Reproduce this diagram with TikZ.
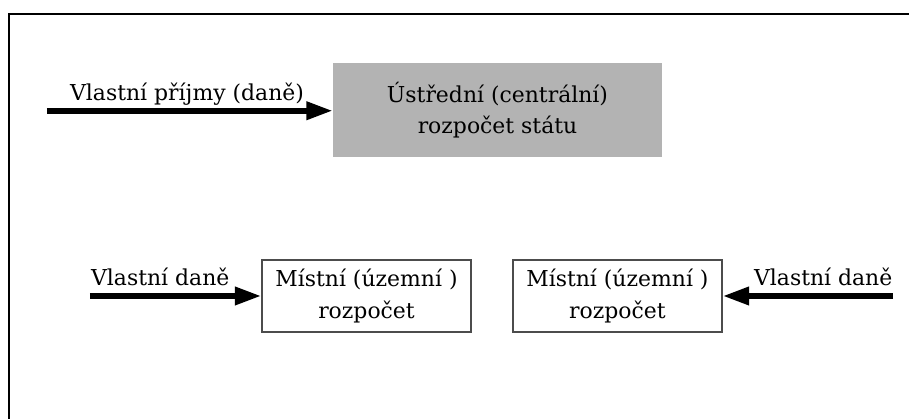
\documentclass[tikz,border=0pt]{standalone}
\usepackage{fontspec}
\setmainfont{DejaVu Serif}
\usetikzlibrary{arrows.meta}
\definecolor{BudgetGrey}{RGB}{179,179,179}

\begin{document}
\begin{tikzpicture}[
                every node/.style={font=\fontsize{16.5}{23.5}\selectfont},
                central/.style={fill=BudgetGrey, minimum width=8.7cm, minimum height=2.49cm, align=center},
                local/.style={draw=black!70, line width=1pt, minimum width=5.53cm, minimum height=1.9cm, align=center},
                income/.style={-{Triangle[length=20pt, width=13pt]}, line width=4.5pt},
                taxlabel/.style={anchor=base, yshift=8pt}]

                \useasboundingbox (0,0) rectangle (24.05,-11.085);

                % Frame
                \draw[line width=1.6pt] (0.238,-11.085) -- (0.238,-0.37) -- (24.05,-0.37);

                % State budget
                \node[central] (state) at (13.163,-2.91) {Ústřední (centrální)\\rozpočet státu};
                \coordinate (stateIn) at (1.243,-2.93);

                % Local budgets
                \node[local] (localL) at (9.697,-7.831) {Místní (územní )\\rozpočet};
                \node[local] (localR) at (16.336,-7.831) {Místní (územní )\\rozpočet};
                \coordinate (localLIn) at (2.381,-7.831);
                \coordinate (localRIn) at (23.63,-7.831);

                % Incomes
                \draw[income] (stateIn) -- node[taxlabel, pos=0.49] {Vlastní příjmy (daně)} (state.west |- stateIn);
                \draw[income] (localLIn) -- node[taxlabel, pos=0.41] {Vlastní daně} (localL);
                \draw[income] (localRIn) -- node[taxlabel, pos=0.41] {Vlastní daně} (localR);
            \end{tikzpicture}
\end{document}
